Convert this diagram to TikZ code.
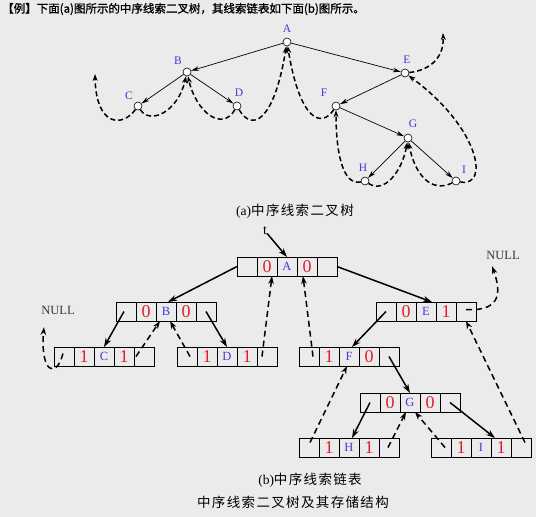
\documentclass[tikz,border=0pt]{standalone}
\usepackage{fontspec}
\setmainfont{Liberation Serif}
\newfontfamily\cjk{Noto Sans CJK SC}
\newfontfamily\cjkhead[FakeBold=1.2]{Noto Sans CJK SC}
\newfontfamily\cjkcap[LetterSpace=10]{Noto Sans CJK SC}
\usetikzlibrary{arrows.meta}
\definecolor{bg}{RGB}{235,235,235}
\definecolor{numred}{RGB}{225,30,45}
\definecolor{letblue}{RGB}{60,60,215}
\definecolor{nullgray}{RGB}{55,55,55}
\tikzset{
  tnode/.style={circle,draw=black,fill=white,line width=0.6pt,minimum size=8pt,inner sep=0pt},
  tlabel/.style={text=letblue,font=\fontsize{11.5}{12}\selectfont,inner sep=0pt},
  treeedge/.style={line width=0.7pt,-{Stealth[length=8pt,width=4.5pt]}},
  treethread/.style={line width=1.5pt,dash pattern=on 5pt off 3pt,-{Stealth[length=7pt,width=5pt]}},
  cellbox/.style={draw=black,line width=0.7pt,minimum width=20pt,minimum height=19pt,inner sep=0pt,outer sep=0pt},
  digit/.style={text=numred,font=\fontsize{18}{18}\selectfont},
  letter/.style={text=letblue,font=\fontsize{12.5}{13}\selectfont},
  solidarr/.style={line width=1.5pt,-{Stealth[length=9pt,width=6pt]}},
  thread/.style={line width=1.5pt,dash pattern=on 6pt off 4pt,-{Stealth[length=8pt,width=5.5pt]}},
  nulltext/.style={text=nullgray,font=\fontsize{12.5}{13}\selectfont,inner sep=0pt},
  caption/.style={font=\cjkcap\fontsize{13.5}{15}\selectfont,inner sep=0pt}
}
\newcommand{\recbox}[6]{%
  \node[cellbox] (#1-1) at (#2+10,#3+9.5) {};
  \node[cellbox,digit] (#1-2) at (#2+30,#3+9.5) {#4};
  \node[cellbox,letter] (#1-3) at (#2+50,#3+9.5) {#5};
  \node[cellbox,digit] (#1-4) at (#2+70,#3+9.5) {#6};
  \node[cellbox] (#1-5) at (#2+90,#3+9.5) {};
}
\begin{document}
\begin{tikzpicture}[x=1pt,y=-1pt]
\fill[bg] (0,0) rectangle (536,517);
\useasboundingbox (0,0) rectangle (536,517);

% header
\node[anchor=west,inner sep=0pt,font=\cjkhead\fontsize{11.5}{13}\selectfont] (head) at (2,9) {【例】下面(a)图所示的中序线索二叉树，其线索链表如下面(b)图所示。};

% ---------- (a) tree ----------
\node[tnode] (nA) at (287,42) {};
\node[tnode] (nB) at (187,72) {};
\node[tnode] (nC) at (138,106) {};
\node[tnode] (nD) at (237,106) {};
\node[tnode] (nE) at (405,73) {};
\node[tnode] (nF) at (336,106) {};
\node[tnode] (nG) at (408,138) {};
\node[tnode] (nH) at (365,181) {};
\node[tnode] (nI) at (456,181) {};
\node[tlabel] (lA) at (287,29) {A};
\node[tlabel] (lB) at (178,61) {B};
\node[tlabel] (lC) at (129,96) {C};
\node[tlabel] (lD) at (239,93) {D};
\node[tlabel] (lE) at (407,60) {E};
\node[tlabel] (lF) at (324,93) {F};
\node[tlabel] (lG) at (413,124) {G};
\node[tlabel] (lH) at (363,168) {H};
\node[tlabel] (lI) at (464,170) {I};

\draw[treeedge] (nA) -- (nB);
\draw[treeedge] (nA) -- (nE);
\draw[treeedge] (nB) -- (nC);
\draw[treeedge] (nB) -- (nD);
\draw[treeedge] (nE) -- (nF);
\draw[treeedge] (nF) -- (nG);
\draw[treeedge] (nG) -- (nH);
\draw[treeedge] (nG) -- (nI);

\coordinate (freeC) at (95,74);
\coordinate (freeE) at (443,33);
\draw[treethread] (nC) .. controls (122,128) and (96,126) .. (freeC);
\draw[treethread] (nC) .. controls (150,125) and (178,112) .. (nB);
\draw[treethread] (nD) .. controls (222,132) and (196,112) .. (nB);
\draw[treethread] (nD) .. controls (252,132) and (274,122) .. (nA);
\draw[treethread] (nF) .. controls (322,128) and (300,122) .. (nA);
\draw[treethread] (nH) .. controls (342,186) and (336,150) .. (nF);
\draw[treethread] (nH) .. controls (384,194) and (402,172) .. (nG);
\draw[treethread] (nI) .. controls (430,194) and (414,172) .. (nG);
\draw[treethread] (nI) .. controls (490,188) and (480,128) .. (nE);
\draw[treethread] (nE) .. controls (432,70) and (444,56) .. (freeE);

\node[caption] (capa) at (295,211) {\rmfamily (a)\cjkcap 中序线索二叉树};

% ---------- (b) linked list ----------
\recbox{bA}{237}{257}{0}{A}{0}
\recbox{bB}{116}{302}{0}{B}{0}
\recbox{bC}{54}{347}{1}{C}{1}
\recbox{bD}{177}{347}{1}{D}{1}
\recbox{bE}{376}{302}{0}{E}{1}
\recbox{bF}{299}{347}{1}{F}{0}
\recbox{bG}{360}{393}{0}{G}{0}
\recbox{bH}{299}{438}{1}{H}{1}
\recbox{bI}{431}{438}{1}{I}{1}

\node[inner sep=0pt,font=\fontsize{14}{14}\selectfont] (t) at (265,231) {t};
\draw[solidarr] (t) -- (bA-3.north);

\node[nulltext] (nullL) at (58,310) {NULL};
\node[nulltext] (nullR) at (503,255) {NULL};
\coordinate (tipL) at (44,327);
\coordinate (tipR) at (492,266);

\draw[solidarr] (bA-1.west) -- ([xshift=2pt]bB-3.north);
\draw[solidarr] (bA-5.east) -- ([xshift=6pt]bE-3.north);
\draw[solidarr] ([xshift=-2pt]bB-1.center) -- (bC-3.north);
\draw[solidarr] (bB-5.center) -- (bD-3.north);
\draw[solidarr] (bE-1.center) -- ([xshift=3pt]bF-3.north);
\draw[solidarr] (bF-5.center) -- (bG-3.north);
\draw[solidarr] (bG-1.center) -- ([xshift=3pt]bH-3.north);
\draw[solidarr] (bG-5.center) -- ([xshift=-6pt]bI-4.north);

\draw[thread] ([xshift=-1pt,yshift=3pt]bC-1.center) .. controls (56,380) and (40,372) .. (tipL);
\draw[thread] ([xshift=-8pt]bC-5.center) -- ([xshift=-6pt]bB-3.south);
\draw[thread] ([xshift=3pt]bD-1.center) -- ([xshift=4pt]bB-3.south);
\draw[thread] ([xshift=-5pt]bD-5.center) -- ([xshift=5pt]bA-2.south);
\draw[thread] ([xshift=4pt]bF-1.center) -- ([xshift=-4pt]bA-4.south);
\draw[thread] ([yshift=2pt]bE-5.center) .. controls (506,312) and (499,286) .. (tipR);
\draw[thread] ([xshift=1pt,yshift=5pt]bH-1.center) -- ([xshift=-2pt]bF-3.south);
\draw[thread] ([xshift=-1pt]bH-5.center) -- ([xshift=-4pt]bG-3.south);
\draw[thread] ([xshift=4pt]bI-1.center) -- ([xshift=5pt]bG-3.south);
\draw[thread] ([xshift=4pt,yshift=5pt]bI-5.center) -- (bE-5.south);

\node[caption] (capb) at (310,480) {\rmfamily (b)\cjkcap 中序线索链表};
\node[caption] (capc) at (293,502) {中序线索二叉树及其存储结构};
\end{tikzpicture}
\end{document}
